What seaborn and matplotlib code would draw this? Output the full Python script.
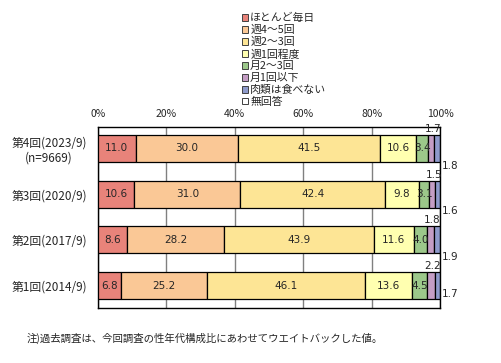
import numpy as np
import pandas as pd
import matplotlib
matplotlib.use("Agg")
import matplotlib.pyplot as plt
import seaborn as sns
from matplotlib.patches import Patch

sns.set_style("white")
plt.rcParams['font.family'] = ['Noto Sans CJK JP', 'DejaVu Sans']

# --- データ ---
surveys = ['第4回(2023/9)\n(n=9669)', '第3回(2020/9)', '第2回(2017/9)', '第1回(2014/9)']
categories = ['ほとんど毎日', '週4～5回', '週2～3回', '週1回程度', '月2～3回', '月1回以下', '肉類は食べない', '無回答']
mainichi = [11.0, 10.6, 8.6, 6.8]
shu45 = [30.0, 31.0, 28.2, 25.2]
shu23 = [41.5, 42.4, 43.9, 46.1]
shu1 = [10.6, 9.8, 11.6, 13.6]
tsuki23 = [3.4, 3.1, 4.0, 4.5]
tsuki1 = [1.7, 1.5, 1.8, 2.2]
tabenai = [1.8, 1.6, 1.9, 1.7]
mukaito = [0.0, 0.0, 0.0, 0.0]
x_ticks = [0, 20, 40, 60, 80, 100]
x_ticklabels = ['0%', '20%', '40%', '60%', '80%', '100%']
note = '注)過去調査は、今回調査の性年代構成比にあわせてウエイトバックした値。'

colors = ['#E8837A', '#FAC896', '#FDE595', '#FFFFB0', '#9CC88A', '#C49DC4', '#8E9ACB', '#FFFFFF']
series = [mainichi, shu45, shu23, shu1, tsuki23, tsuki1, tabenai, mukaito]

fig = plt.figure(figsize=(5.02, 3.63), dpi=100)
ax = fig.add_axes([98 / 502, 1 - 308 / 363, 342 / 502, 181 / 363])

left = np.zeros(len(surveys))
for vals, col in zip(series, colors):
    sns.barplot(x=vals, y=surveys, left=left, color=col, width=0.59,
                edgecolor='black', linewidth=0.9, saturation=1, ax=ax, zorder=3)
    left = left + np.array(vals)

# 値ラベル
bars = ax.containers
for cont in bars[:5]:
    ax.bar_label(cont, fmt='%.1f', label_type='center', fontsize=7.5,
                 family=['DejaVu Sans'])
for i, p in enumerate(bars[5]):
    cx = p.get_x() + p.get_width() / 2
    ax.text(cx + 0.5, p.get_y() - 0.02, f'{tsuki1[i]:.1f}', ha='center', va='bottom',
            fontsize=7.5, family=['DejaVu Sans'])
for i, p in enumerate(bars[6]):
    yb = p.get_y() + p.get_height()
    off = 0.08 if i < 3 else -0.12
    ax.text(100.6, yb + off, f'{tabenai[i]:.1f}', ha='left', va='center',
            fontsize=7.5, family=['DejaVu Sans'], clip_on=False)

ax.set_xlim(0, 100)
ax.set_ylim(3.49, -0.47)
ax.set_xticks(x_ticks)
ax.set_xticklabels(x_ticklabels, fontsize=7.5)
ax.xaxis.tick_top()
ax.tick_params(axis='both', length=0, pad=6)
ax.tick_params(axis='y', labelsize=8.5, pad=8)
ax.set_xlabel('')
ax.set_ylabel('')
for lab in ax.get_yticklabels():
    lab.set_multialignment('center')
ax.grid(axis='x', color='#808080', linewidth=1, zorder=0)
ax.grid(axis='y', visible=False)
for s in ax.spines.values():
    s.set_visible(True)
    s.set_color('black')
    s.set_linewidth(1)

handles = [Patch(facecolor=c, edgecolor='#404040', linewidth=0.7) for c in colors]
fig.legend(handles, categories, loc='upper left', bbox_to_anchor=(242 / 502, 1 - 13 / 363),
           frameon=False, fontsize=7.8, handlelength=0.6, handleheight=0.6,
           handletextpad=0.15, labelspacing=0.16, borderpad=0, borderaxespad=0)

fig.text(27 / 502, 1 - 338 / 363, note, fontsize=7.5, va='center', ha='left')

fig.savefig('out.png', dpi=100)
